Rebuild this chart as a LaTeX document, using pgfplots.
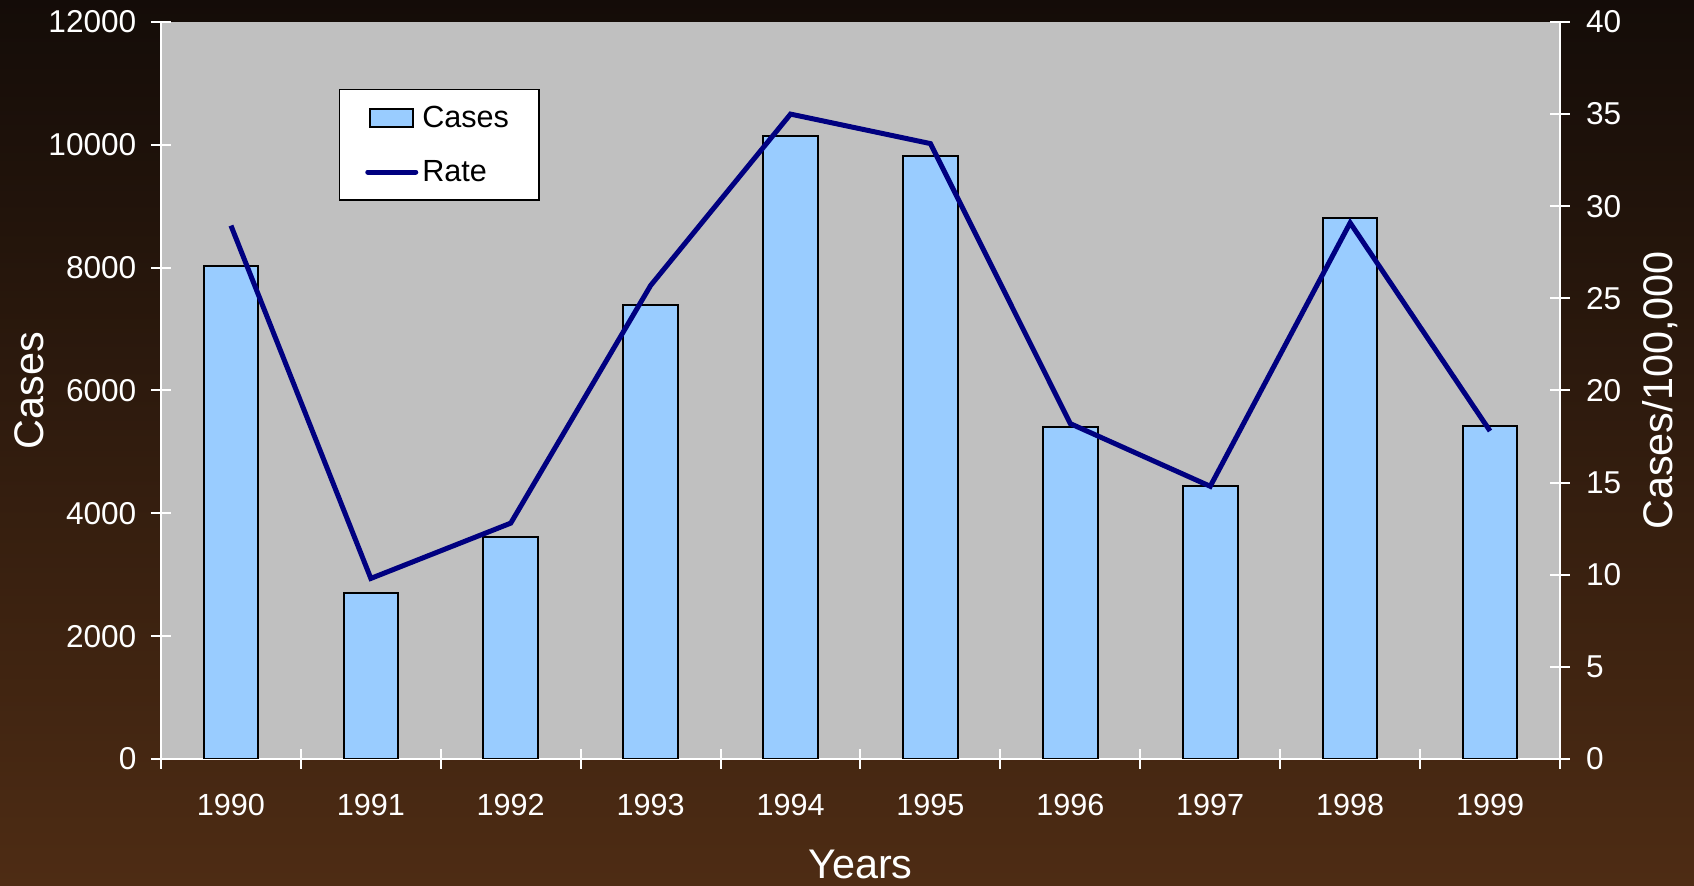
\documentclass[border=0pt]{standalone}
\usepackage{fontspec}
\setmainfont{Liberation Sans}
\usepackage{pgfplots}
\pgfplotsset{compat=1.18}
\definecolor{barblue}{RGB}{153,204,255}
\definecolor{navyline}{RGB}{0,0,128}
\definecolor{plotgray}{RGB}{192,192,192}
\definecolor{bgtop}{RGB}{20,12,8}
\definecolor{bgmid}{RGB}{62,38,20}
\definecolor{bgbot}{RGB}{78,44,20}
\pgfplotsset{
  boxlegend/.style={legend image code/.code={\draw[##1] (0pt,-4.5pt) rectangle (21.5pt,4.5pt);}},
  linelegend/.style={legend image code/.code={\draw[##1] (-1pt,0pt) -- (23pt,0pt);}},
}
\pgfplotstableread{
x cases rate
0 8030 28.95
1 2710 9.8
2 3610 12.8
3 7400 25.7
4 10140 35.0
5 9825 33.4
6 5400 18.2
7 4440 14.8
8 8810 29.1
9 5420 17.8
}\datatable
\begin{document}
\begin{tikzpicture}
\fill[top color=bgtop, middle color=bgmid, bottom color=bgbot] (-80.5pt,-63.5pt) rectangle (766.5pt,379.5pt);
\pgfplotsset{
  common/.style={
    at={(0pt,0pt)}, anchor=south west,
    scale only axis, width=699.5pt, height=368.5pt,
    xmin=-0.5, xmax=9.5,
    major tick length=10pt,
    tick style={white, line width=1pt},
    axis line style={white, line width=1pt},
    tick label style={font=\fontsize{15.3}{18}\selectfont, text=white},
    label style={font=\fontsize{20.7}{24}\selectfont, text=white},
    /pgf/number format/assume math mode=true,
    /pgf/number format/1000 sep={},
    scaled y ticks=false,
  }
}
\begin{axis}[common,
  axis x line*=bottom, axis y line*=left,
  tick align=center,
  axis background/.style={fill=plotgray},
  ymin=0, ymax=12000, ytick={0,2000,...,12000},
  yticklabel style={font=\fontsize{15.8}{18}\selectfont, xshift=-3.8pt},
  xtick={-0.5,0.5,...,9.5},
  x tick label as interval,
  xticklabels={1990,1991,1992,1993,1994,1995,1996,1997,1998,1999},
  xticklabel style={yshift=-3.8pt},
  major x tick style={white, line width=1pt, yshift=5pt},
  ybar, bar width=0.39,
  xlabel={Years}, ylabel={Cases},
  xlabel style={at={(axis description cs:0.5,-0.1425)}, anchor=center},
  ylabel style={at={(axis description cs:-0.0944,0.5)}, anchor=center},
]
\addplot[fill=barblue, draw=black, line width=1pt] table[x=x, y=cases] {\datatable};
\end{axis}
\begin{axis}[common,
  axis x line=none, axis y line*=right,
  tick align=center,
  ymin=0, ymax=40, ytick={0,5,...,40},
  yticklabel style={font=\fontsize{15.8}{18}\selectfont, xshift=4.5pt},
  ylabel={Cases/100,000},
  ylabel style={at={(axis description cs:1.0715,0.5)}, anchor=center},
  legend style={at={(0.127,0.909)}, anchor=north west, draw=black, fill=white,
    font=\fontsize{15.3}{18}\selectfont, text=black, line width=0.6pt,
    row sep=11pt, inner xsep=13pt, inner ysep=6pt},
  legend cell align=left,
]
\addlegendimage{boxlegend, fill=barblue, draw=black, line width=1pt}
\addlegendentry{Cases}
\addlegendimage{linelegend, navyline, line width=2.5pt, line cap=round}
\addlegendentry{Rate}
\addplot[navyline, line width=2.5pt, forget plot] table[x=x, y=rate] {\datatable};
\end{axis}
\pgfresetboundingbox
\path[use as bounding box] (-80.5pt,-63.5pt) rectangle (766.5pt,379.5pt);
\end{tikzpicture}
\end{document}
